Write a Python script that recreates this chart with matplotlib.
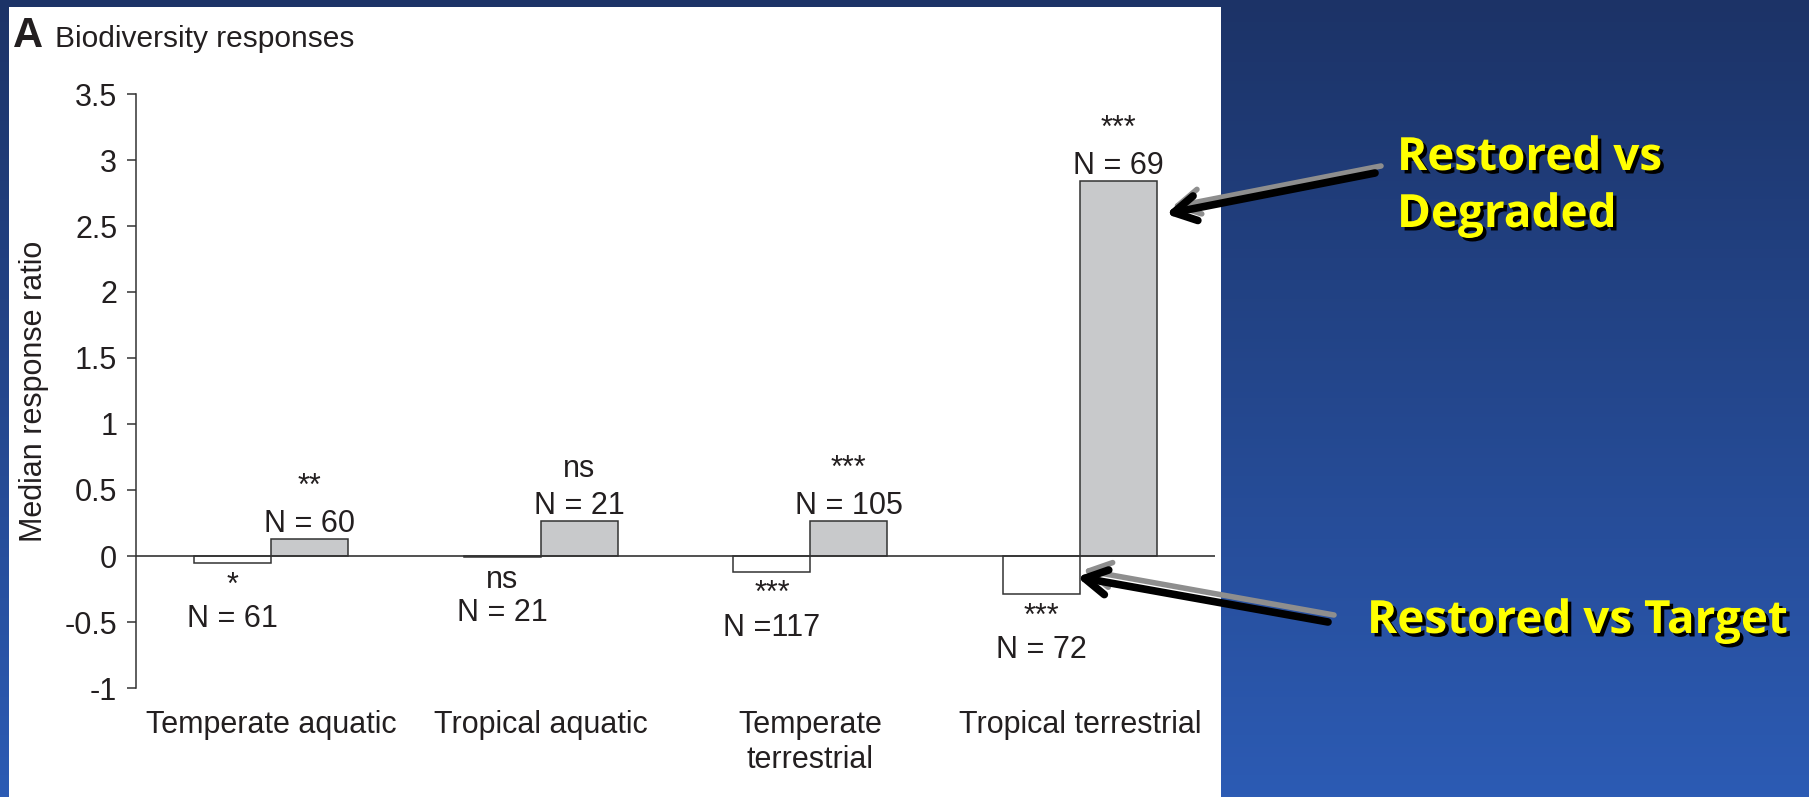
import numpy as np
import matplotlib
matplotlib.use('Agg')
import matplotlib.pyplot as plt
import matplotlib.patheffects as pe
from matplotlib.colors import LinearSegmentedColormap
from matplotlib.patches import Rectangle

# data
categories = ['Temperate aquatic', 'Tropical aquatic', 'Temperate\nterrestrial', 'Tropical terrestrial']
vs_target = [-0.055, -0.01, -0.12, -0.29]     # white bars
vs_degraded = [0.13, 0.265, 0.265, 2.84]      # grey bars
n_target = ['N = 61', 'N = 21', 'N =117', 'N = 72']
n_degraded = ['N = 60', 'N = 21', 'N = 105', 'N = 69']
sig_target = ['*', 'ns', '***', '***']
sig_degraded = ['**', 'ns', '***', '***']
yticks = [-1, -0.5, 0, 0.5, 1, 1.5, 2, 2.5, 3, 3.5]
ytick_labels = ['-1', '-0.5', '0', '0.5', '1', '1.5', '2', '2.5', '3', '3.5']

plt.rcParams['font.family'] = ['Liberation Sans', 'DejaVu Sans']
ink = '#231f20'
edge = '#333333'

W, H = 1809, 797
fig = plt.figure(figsize=(W / 100, H / 100), dpi=100)

# slide background + white panel
bg = fig.add_axes([0, 0, 1, 1], zorder=0)
bg.set_xlim(0, W)
bg.set_ylim(H, 0)
bg.axis('off')
cmap = LinearSegmentedColormap.from_list('slide', ['#1c3367', '#2c5bb4'])
bg.imshow(np.linspace(0, 1, 256).reshape(-1, 1), cmap=cmap, aspect='auto', extent=[0, W, H, 0])
bg.add_patch(Rectangle((9, 7), 1212, 800, facecolor='white', edgecolor='none'))
bg.text(13, 47, 'A', fontsize=30, fontweight='bold', color=ink, va='baseline')
bg.text(55, 47, 'Biodiversity responses', fontsize=21.5, color=ink, va='baseline')

# chart
ax = fig.add_axes([136 / W, 1 - 688 / H, (1215 - 136) / W, (688 - 94) / H], zorder=1)
ax.patch.set_alpha(0)
x = np.arange(len(categories))
w = 0.285
ax.bar(x - w / 2, vs_target, w, facecolor='white', edgecolor=edge, linewidth=1.1)
ax.bar(x + w / 2, vs_degraded, w, facecolor='#c8c9cb', edgecolor=edge, linewidth=1.1)
ax.axhline(0, color=edge, linewidth=1.2)

for i in range(len(categories)):
    ax.annotate(n_degraded[i], (x[i] + w / 2, vs_degraded[i]), xytext=(0, 5), textcoords='offset points',
                ha='center', va='baseline', fontsize=22, color=ink)
    ax.annotate(sig_degraded[i], (x[i] + w / 2, vs_degraded[i]), xytext=(0, 31.5), textcoords='offset points',
                ha='center', va='baseline', fontsize=22, color=ink)
    ax.annotate(sig_target[i], (x[i] - w / 2, vs_target[i]), xytext=(0, -22), textcoords='offset points',
                ha='center', va='baseline', fontsize=22, color=ink)
    ax.annotate(n_target[i], (x[i] - w / 2, vs_target[i]), xytext=(0, -46), textcoords='offset points',
                ha='center', va='baseline', fontsize=22, color=ink)

ax.set_xlim(-0.5, 3.5)
ax.set_ylim(-1, 3.5)
ax.set_yticks(yticks)
ax.set_yticklabels(ytick_labels)
ax.set_xticks(x)
ax.set_xticklabels(categories)
for s in ['top', 'right', 'bottom']:
    ax.spines[s].set_visible(False)
ax.spines['left'].set_color(edge)
ax.spines['left'].set_linewidth(1.1)
ax.tick_params(axis='y', length=6.5, width=1.1, color=edge, pad=7, labelsize=22, labelcolor=ink)
ax.tick_params(axis='x', length=0, pad=16, labelsize=22, labelcolor=ink)
ax.set_ylabel('Median response ratio', fontsize=22, color=ink, labelpad=11)

# overlay: arrows and slide captions
ov = fig.add_axes([0, 0, 1, 1], zorder=2)
ov.set_xlim(0, W)
ov.set_ylim(H, 0)
ov.axis('off')
ov.patch.set_alpha(0)

arrows = [((1375, 173), (1166, 214)), ((1328, 622), (1077, 577))]
for tail, tip in arrows:
    for dx, dy, col, lw in [(6, -7, '#8e8e8e', 4), (0, 0, 'black', 5.5)]:
        ov.annotate('', xy=(tip[0] + dx, tip[1] + dy), xytext=(tail[0] + dx, tail[1] + dy),
                    arrowprops=dict(arrowstyle='->, head_length=0.8, head_width=0.45',
                                    mutation_scale=20, lw=lw, color=col, shrinkA=0, shrinkB=0))

shadow = [pe.SimplePatchShadow(offset=(2.5, -2.5), shadow_rgbFace='black', alpha=1), pe.Normal()]
caption = dict(color='#ffff00', fontsize=33, fontweight='bold', family=['Open Sans', 'DejaVu Sans'],
               va='baseline', ha='left', path_effects=shadow)
ov.text(1397, 170, 'Restored vs', **caption)
ov.text(1397, 227, 'Degraded', **caption)
ov.text(1367, 633, 'Restored vs Target', **caption)

fig.savefig('out.png', dpi=100)
